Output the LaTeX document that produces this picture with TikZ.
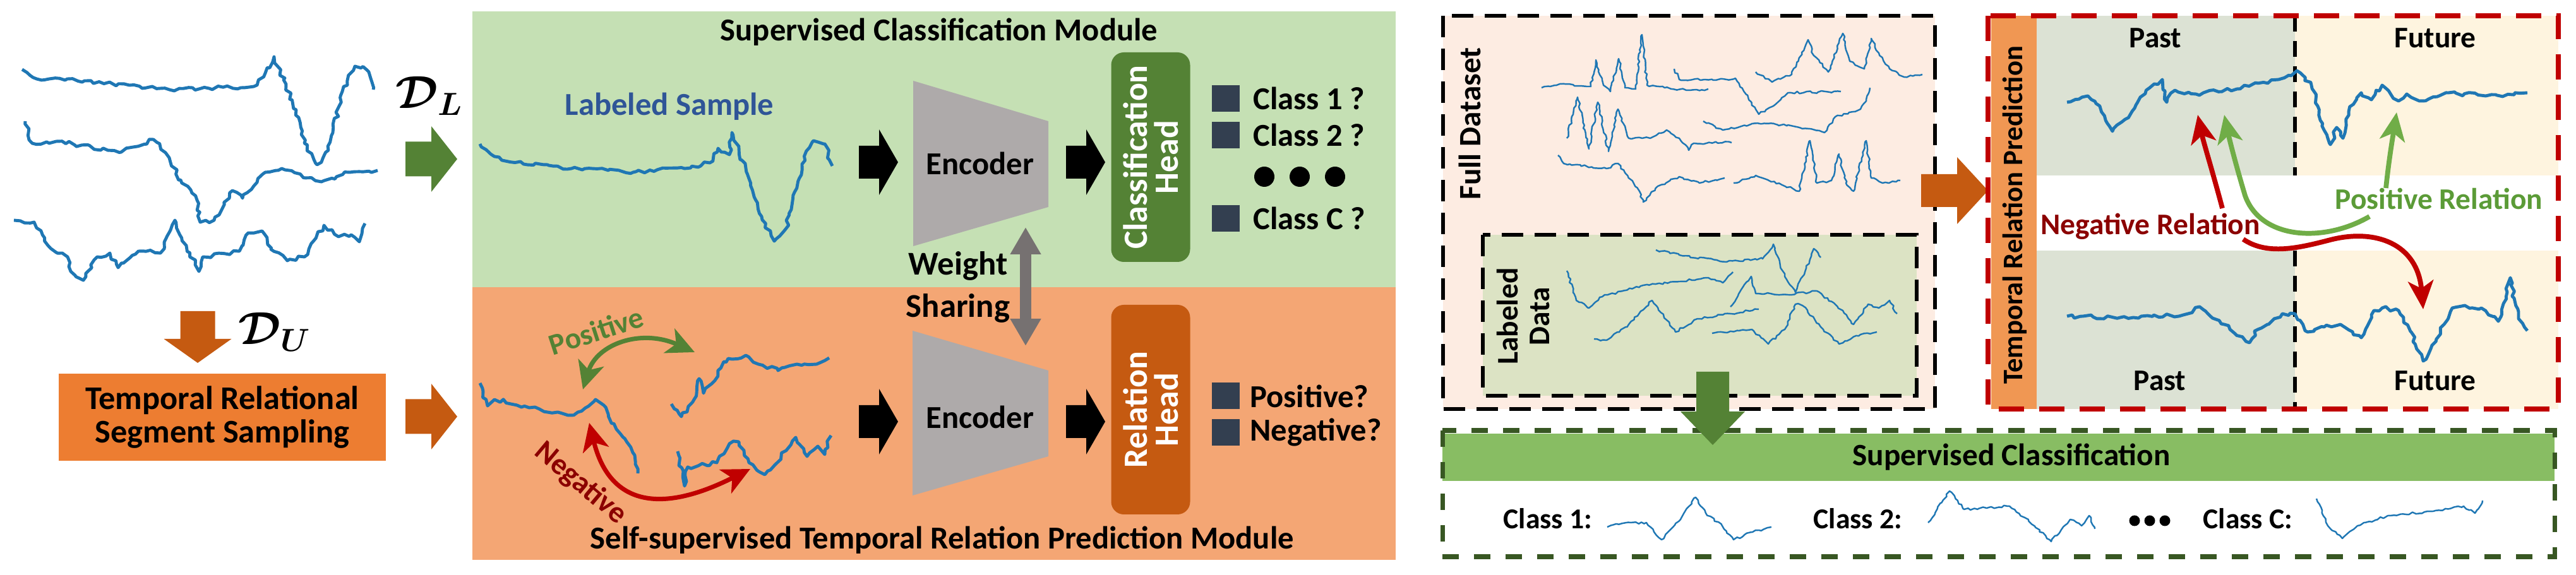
\documentclass[tikz,border=0pt]{standalone}
\usepackage{fontspec}
\setmainfont{Carlito}
\usepackage{amsmath}
\usepackage{bm}
\usetikzlibrary{arrows.meta,calc,positioning,decorations.pathmorphing}
\definecolor{sblue}{HTML}{1F77B4}
\definecolor{supfill}{HTML}{C5E0B4}
\definecolor{relfill}{HTML}{F4A674}
\definecolor{hgreen}{HTML}{548235}
\definecolor{horange}{HTML}{C55A11}
\definecolor{boxorange}{HTML}{ED7D31}
\definecolor{slate}{HTML}{333F50}
\definecolor{encgray}{HTML}{AEAAAA}
\definecolor{sharegray}{HTML}{767171}
\definecolor{labblue}{HTML}{2F5597}
\definecolor{negred}{HTML}{C00000}
\definecolor{negtext}{HTML}{8B0000}
\definecolor{fullfill}{HTML}{FDECE2}
\definecolor{labfill}{HTML}{DCE3C4}
\definecolor{barorange}{HTML}{F09753}
\definecolor{pastfill}{HTML}{DCE2D4}
\definecolor{futfill}{HTML}{FEF4DF}
\definecolor{relgreen}{HTML}{70AD47}
\definecolor{postext}{HTML}{5B9B37}
\definecolor{dkgreen}{HTML}{385723}
\definecolor{barfill}{HTML}{88BD63}
% block arrow: [opts]{tail}{length}{half shaft}{half head}{head length}
\newcommand{\blockarrow}[6][]{%
  \fill[shift={(#2)},#1] (0,-#4) -- ({#3-#6},-#4) -- ({#3-#6},-#5) -- (#3,0)
    -- ({#3-#6},#5) -- ({#3-#6},#4) -- (0,#4) -- cycle;}
\tikzset{
  ts/.style={draw=sblue,line width=1.4pt,line join=round,decorate,
    decoration={random steps,segment length=2pt,amplitude=0.9pt}},
  tsl/.style={draw=sblue,line width=0.7pt,line join=round,decorate,
    decoration={random steps,segment length=1.4pt,amplitude=0.5pt}},
  lb/.style={inner sep=0pt,font=\fontsize{14.4}{17}\selectfont\bfseries},
  lbs/.style={inner sep=0pt,font=\fontsize{13.5}{15}\selectfont\bfseries},
  dsym/.style={inner sep=0pt,font=\fontsize{22}{24}\selectfont},
  trss/.style={fill=boxorange,minimum width=51.8mm,minimum height=13.8mm,align=center,
    inner sep=0pt,font=\fontsize{14.9}{15}\selectfont\bfseries},
  enc/.style={fill=encgray},
  hd/.style={rounded corners=2mm,minimum width=33.2mm,minimum height=12.5mm,rotate=90,
    text=white,align=center,inner sep=0pt,font=\fontsize{15.3}{14}\selectfont\bfseries},
  sq/.style={fill=slate,minimum width=4.4mm,minimum height=4.2mm,inner sep=0pt},
  dot/.style={circle,fill=black,minimum size=3.2mm,inner sep=0pt},
  share/.style={draw=sharegray,line width=1.8mm,
    arrows={Triangle[length=4.3mm,width=4.6mm]-Triangle[length=4.3mm,width=4.6mm]}},
  posa/.style={draw=hgreen,line width=2pt,
    arrows={Stealth[length=4.4mm,width=4.2mm,inset=1.2mm]-Stealth[length=4.4mm,width=4.2mm,inset=1.2mm]}},
  nega/.style={draw=negred,line width=2pt,
    arrows={Stealth[length=4.4mm,width=4.2mm,inset=1.2mm]-Stealth[length=4.4mm,width=4.2mm,inset=1.2mm]}},
  rneg/.style={draw=negred,line width=2.2pt,arrows={-Stealth[length=4.5mm,width=4mm,inset=1.2mm]}},
  rpos/.style={draw=relgreen,line width=2.2pt,arrows={-Stealth[length=4.5mm,width=4mm,inset=1.2mm]}},
  dbx/.style={draw=black,line width=1.7pt,dash pattern=on 3.4mm off 1.8mm},
  rbx/.style={draw=negred,line width=2.3pt,dash pattern=on 4mm off 2.4mm},
  gbx/.style={draw=dkgreen,line width=2pt,dash pattern=on 2.6mm off 2.4mm},
  vd/.style={draw=black,line width=1.5pt,dash pattern=on 2.5mm off 1.5mm},
}

\begin{document}
\begin{tikzpicture}[x=1mm,y=-1mm]
\pgfmathsetseed{11}
\useasboundingbox (0,0) rectangle (407.9,91.1);
% unlabeled pool
\draw[ts] (3.5,11.0) -- (5.8,12.5) -- (13.4,12.8) -- (26.8,14.2) -- (40.2,13.7) -- (42.0,11.6)
  -- (43.4,9.0) -- (46.9,17.4) -- (48.2,22.7) -- (50.2,26.1) -- (52.0,23.8) -- (54.2,14.5)
  -- (56.2,10.5) -- (58.0,11.0) -- (59.1,14.2);
\draw[ts] (4.0,19.2) -- (5.1,22.7) -- (8.9,22.4) -- (19.2,24.1) -- (24.3,22.1) -- (26.8,25.0)
  -- (28.6,28.5) -- (31.2,31.7) -- (31.7,35.2) -- (33.9,34.9) -- (36.8,30.2) -- (38.4,31.4)
  -- (42.0,27.3) -- (44.6,26.7) -- (50.9,28.8) -- (55.4,27.3) -- (59.8,27.0);
\draw[ts] (2.2,34.9) -- (5.4,35.2) -- (7.6,38.9) -- (10.7,40.7) -- (11.2,43.0) -- (13.2,44.4)
  -- (15.4,40.7) -- (17.4,40.1) -- (18.7,42.4) -- (21.9,39.8) -- (25.4,40.1) -- (27.7,34.9)
  -- (29.5,38.9) -- (31.5,43.0) -- (32.1,40.7) -- (37.9,39.8) -- (39.3,36.9) -- (41.5,36.6)
  -- (42.9,39.5) -- (45.5,41.3) -- (48.2,40.7) -- (51.3,35.7) -- (53.6,37.5) -- (55.6,37.2)
  -- (56.9,38.3) -- (57.8,35.4);
\node[dsym] (DL) at (68.0,15.2) {$\bm{\mathcal{D}_{L}}$};
\node[dsym] (DU) at (43.5,52.6) {$\bm{\mathcal{D}_{U}}$};
\blockarrow[fill=horange,rotate=-90]{31.3,49.3}{8.2}{2.75}{5.35}{3.8}
\node[trss] (trss) at (35.2,66.1) {Temporal Relational\\Segment Sampling};
\blockarrow[fill=hgreen]{64.2,25.2}{8.2}{2.75}{5.2}{4.1}
\blockarrow[fill=horange]{64.2,66.0}{8.2}{2.75}{5.2}{4.1}

% the two modules
\fill[supfill] (74.8,1.8) rectangle (221.0,45.5);
\fill[relfill] (74.8,45.5) rectangle (221.0,88.7);
\node[lb,anchor=base] (suptl) at (148.7,6.5) {Supervised Classification Module};
\node[lb,anchor=base] (reltl) at (149.2,87.0) {Self-supervised Temporal Relation Prediction Module};
\node[lb,anchor=base,text=labblue] (labs) at (106.0,18.3) {Labeled Sample};
\draw[ts] (76.0,22.8) -- (78.3,24.8) -- (82.9,26.0) -- (90.5,26.7) -- (100.7,27.2) -- (108.4,26.7)
  -- (112.4,25.8) -- (113.7,23.5) -- (115.5,24.5) -- (115.9,21.0) -- (118.6,28.3) -- (120.6,34.3)
  -- (122.6,38.2) -- (124.4,36.3) -- (127.0,26.0) -- (128.8,22.3) -- (130.6,22.8) -- (131.8,26.3);
% sampled segments
\draw[ts] (76.0,60.7) -- (77.2,64.3) -- (78.3,63.3) -- (85.4,64.8) -- (90.0,65.8) -- (91.5,65.3)
  -- (94.3,63.3) -- (95.6,64.2) -- (97.6,68.0) -- (100.2,71.7) -- (101.0,75.0);
\draw[ts] (106.3,64.0) -- (107.9,66.0) -- (109.9,63.3) -- (110.7,60.0) -- (111.4,62.3) -- (115.3,56.8)
  -- (118.1,56.3) -- (120.1,57.7) -- (123.2,58.7) -- (126.2,57.7) -- (129.3,57.7) -- (131.3,56.7);
\draw[ts] (107.3,71.5) -- (108.4,77.0) -- (108.9,74.0) -- (113.5,73.3) -- (115.5,70.3) -- (117.0,70.0)
  -- (118.6,73.3) -- (121.1,75.2) -- (123.7,72.3) -- (126.0,69.3) -- (127.8,72.3) -- (129.5,70.7)
  -- (130.6,72.0) -- (131.6,69.0);
\coordinate (pa) at (92.3,61.7);
\coordinate (pb) at (110.0,55.8);
\coordinate (na) at (93.3,67.0);
\coordinate (nb) at (118.8,74.3);
\draw[posa] (pa) .. controls (94.5,54.5) and (101.5,52.0) .. (pb);
\draw[nega] (na) .. controls (96.5,80.0) and (104.5,81.5) .. (nb);
\node[lbs,text=hgreen,rotate=18] (posl) at (94.4,52.4) {Positive};
\node[lbs,text=negtext,rotate=-40] (negl) at (91.9,76.6) {Negative};
% encoders and heads
\blockarrow[fill=black]{136.0,25.7}{6.2}{2.6}{5.2}{3.0}
\blockarrow[fill=black]{168.8,25.7}{6.2}{2.6}{5.2}{3.0}
\blockarrow[fill=black]{136.0,66.8}{6.2}{2.6}{5.2}{3.0}
\blockarrow[fill=black]{168.8,66.8}{6.2}{2.6}{5.2}{3.0}
\fill[enc] (144.6,12.8) -- (166.0,19.2) -- (166.0,32.8) -- (144.6,39.0) -- cycle;
\fill[enc] (144.5,52.4) -- (166.0,58.7) -- (166.0,72.3) -- (144.5,78.5) -- cycle;
\node[lb] (enc1) at (155.2,25.9) {Encoder};
\node[lb] (enc2) at (155.2,66.1) {Encoder};
\node[hd,fill=hgreen] (chead) at (182.2,24.9) {Classification\\Head};
\node[hd,fill=horange] (rhead) at (182.2,64.9) {Relation\\Head};
\node[sq] (s1) at (194.1,15.6) {};
\node[sq] (s2) at (194.1,21.4) {};
\node[sq] (s3) at (194.1,34.6) {};
\node[lb,right=2mm of s1] (c1) {Class 1 ?};
\node[lb,right=2mm of s2] (c2) {Class 2 ?};
\node[lb,right=2mm of s3] (c3) {Class C ?};
\foreach \x [count=\i] in {200.2,205.8,211.4}
  \node[dot] (dt\i) at (\x,28.0) {};
\node[sq] (s4) at (194.1,62.75) {};
\node[sq] (s5) at (194.1,68.55) {};
\node[lb,right=1.5mm of s4] (c4) {Positive?};
\node[lb,right=1.5mm of s5] (c5) {Negative?};
\node[lb,align=center,font=\fontsize{15}{19.3}\selectfont\bfseries] (ws) at (151.7,45.5) {Weight\\Sharing};
\coordinate (wt) at (162.4,36.0);
\coordinate (wb) at (162.4,54.8);
\draw[share] (wt) -- (wb);

% full dataset
\fill[fullfill] (228.5,2.5) rectangle (306.4,64.8);
\draw[dbx] (228.5,2.5) rectangle (306.4,64.8);
\fill[labfill] (234.8,37.2) rectangle (303.5,62.7);
\draw[dbx] (234.8,37.2) rectangle (303.5,62.7);
\node[lbs,rotate=90,font=\fontsize{14}{15}\selectfont\bfseries] (full) at (232.7,19.6) {Full Dataset};
\node[lbs,rotate=90,align=center,font=\fontsize{13.5}{14}\selectfont\bfseries] (labd) at (241.2,50.1) {Labeled\\Data};
\draw[tsl] (244.1,13.9) -- (247.0,13.3) -- (251.9,13.7) -- (252.7,9.5) -- (253.9,13.5) -- (255.0,14.5)
  -- (256.3,9.3) -- (257.3,13.9) -- (259.0,14.1) -- (260.0,5.5) -- (260.8,13.5) -- (263.6,13.9)
  -- (267.6,14.3) -- (270.5,14.1);
\draw[tsl] (265.1,10.9) -- (265.9,12.6) -- (269.9,12.6) -- (273.4,12.6) -- (274.8,12.4) -- (278.0,17.3)
  -- (278.5,18.1) -- (280.8,16.8) -- (283.1,14.7) -- (291.5,14.5);
\draw[tsl] (278.0,11.4) -- (280.6,13.0) -- (283.7,11.8) -- (286.3,6.3) -- (287.2,8.8) -- (289.5,11.4)
  -- (291.8,5.3) -- (292.9,9.7) -- (295.2,10.9) -- (296.3,6.1) -- (297.5,8.4) -- (299.2,10.9)
  -- (301.5,12.2) -- (304.4,11.8);
\draw[tsl] (248.1,21.9) -- (249.8,15.4) -- (251.6,23.6) -- (253.0,16.2) -- (254.7,24.0) -- (256.2,17.3)
  -- (257.9,21.9) -- (261.3,21.9) -- (263.9,20.6) -- (265.9,21.9) -- (267.4,23.8) -- (268.2,22.7)
  -- (274.2,22.6);
\draw[tsl] (269.7,19.2) -- (272.8,20.6) -- (277.4,19.6) -- (283.1,19.8) -- (288.9,21.0) -- (290.6,18.5)
  -- (294.6,17.3) -- (295.5,15.8) -- (296.1,13.9);
\draw[tsl] (246.7,24.6) -- (247.6,25.9) -- (254.4,26.7) -- (256.2,25.9) -- (259.6,30.3) -- (260.2,32.0)
  -- (262.5,29.5) -- (265.9,28.0) -- (269.1,29.0) -- (273.1,28.2);
\draw[tsl] (274.5,29.0) -- (278.0,27.8) -- (284.9,30.3) -- (286.6,22.3) -- (287.7,29.0) -- (290.0,28.6)
  -- (291.2,24.4) -- (292.3,29.0) -- (293.5,30.3) -- (295.5,22.3) -- (296.3,28.2) -- (298.1,29.0)
  -- (300.9,28.6);
\draw[tsl] (262.2,39.6) -- (265.9,40.4) -- (273.4,41.5) -- (279.1,41.0) -- (280.0,40.0) -- (280.8,38.7)
  -- (282.6,43.8) -- (284.3,46.3) -- (286.0,42.5) -- (287.2,39.4) -- (288.3,40.8);
\draw[tsl] (248.1,42.9) -- (249.6,47.6) -- (251.6,48.8) -- (253.3,47.1) -- (260.2,45.2) -- (265.9,44.6)
  -- (270.5,44.0) -- (272.8,44.8) -- (274.4,43.1);
\draw[tsl] (274.0,48.6) -- (275.7,45.9) -- (277.3,43.8) -- (278.0,46.5) -- (283.1,46.7) -- (286.6,46.3)
  -- (287.7,46.1) -- (291.8,49.2) -- (293.5,51.4) -- (295.8,48.2) -- (297.5,48.8) -- (299.2,47.6)
  -- (300.4,49.7);
\draw[tsl] (252.4,53.7) -- (254.4,53.9) -- (257.9,51.4) -- (261.6,47.6) -- (265.3,52.6) -- (268.8,50.5)
  -- (274.0,49.7) -- (278.5,49.0);
\draw[tsl] (271.1,52.8) -- (277.4,52.2) -- (280.0,54.5) -- (282.6,52.2) -- (284.3,48.2) -- (285.4,48.4)
  -- (288.3,51.8) -- (291.2,54.5) -- (294.6,53.0) -- (297.2,52.6);
\blockarrow[fill=horange]{304.2,30.2}{10.6}{2.6}{5.3}{4.9}

% temporal relation prediction
\fill[barorange] (315.3,2.5) rectangle (322.5,64.8);
\fill[pastfill] (322.5,2.5) rectangle (363.4,27.8);
\fill[futfill] (363.4,2.5) rectangle (405.1,27.8);
\fill[pastfill] (322.5,39.7) rectangle (363.4,64.8);
\fill[futfill] (363.4,39.7) rectangle (405.1,64.8);
\draw[vd] (363.4,2.5) -- (363.4,27.8);
\draw[vd] (363.4,39.7) -- (363.4,64.8);
\draw[rbx] (314.8,2.5) rectangle (405.1,64.8);
\node[lbs,rotate=90,font=\fontsize{12.7}{14}\selectfont\bfseries] (trp) at (319.0,34.1) {Temporal Relation Prediction};
\node[lbs,anchor=base] (past1) at (341.3,7.6) {Past};
\node[lbs,anchor=base] (fut1) at (385.6,7.6) {Future};
\node[lbs,anchor=base] (past2) at (342.0,61.9) {Past};
\node[lbs,anchor=base] (fut2) at (385.6,61.9) {Future};
\draw[ts] (327.3,16.2) -- (330.6,15.2) -- (331.9,16.4) -- (334.5,20.8) -- (336.5,18.9) -- (340.4,13.9)
  -- (342.4,12.6) -- (343.1,16.2) -- (344.4,14.3) -- (347.7,14.9) -- (354.2,14.1) -- (360.8,12.6)
  -- (363.7,11.2) -- (366.0,13.5) -- (367.0,16.8) -- (368.0,20.6) -- (369.0,22.9) -- (370.0,20.2)
  -- (371.0,21.9) -- (371.9,17.7) -- (373.9,14.7) -- (375.5,15.8) -- (377.2,13.5) -- (379.8,16.0)
  -- (381.1,14.9) -- (383.1,16.0) -- (387.7,14.7) -- (393.6,15.2) -- (400.2,14.7);
\draw[ts] (327.3,50.1) -- (337.8,50.3) -- (345.7,49.9) -- (348.3,48.6) -- (352.2,51.4) -- (356.2,54.3)
  -- (357.5,52.2) -- (360.1,50.5) -- (361.4,49.7) -- (363.4,49.7) -- (365.4,52.6) -- (368.0,51.8)
  -- (370.6,51.4) -- (373.9,53.5) -- (375.9,49.2) -- (377.2,48.8) -- (379.8,49.2) -- (381.8,52.6)
  -- (383.7,57.2) -- (385.1,54.7) -- (387.0,51.4) -- (388.3,48.8) -- (390.3,48.4) -- (392.9,48.8)
  -- (395.6,50.9) -- (397.5,44.0) -- (398.8,50.5) -- (400.2,52.4);
\node[lbs,anchor=base,text=negtext] (negrel) at (340.5,37.2) {Negative Relation};
\node[lbs,anchor=base,text=postext] (posrel) at (386.2,33.2) {Positive Relation};
\coordinate (nup) at (351.9,33.0);
\coordinate (ndn) at (355.2,37.9);
\coordinate (pt1) at (348.0,18.2);
\coordinate (fb2) at (383.7,49.0);
\coordinate (pleft) at (375.2,34.3);
\coordinate (pup) at (377.8,29.8);
\coordinate (pt2) at (352.2,18.2);
\coordinate (ft1) at (379.5,17.8);
\draw[rpos] (pleft) .. controls (368.0,38.5) and (358.0,38.0) .. (355.5,31.0)
  .. controls (354.0,26.0) and (353.0,22.0) .. (pt2);
\draw[rpos] (pup) .. controls (378.3,25.0) and (379.0,21.0) .. (ft1);
\draw[rneg] (nup) .. controls (350.3,27.0) and (348.9,22.5) .. (pt1);
\draw[rneg] (ndn) .. controls (359.0,40.5) and (364.0,39.3) .. (369.0,38.0)
  .. controls (376.0,36.2) and (382.8,38.5) .. (fb2);

% supervised classification
\fill[barfill] (228.4,68.7) rectangle (404.5,76.2);
\draw[gbx] (228.4,68.2) rectangle (404.5,88.2);
\node[lbs,anchor=base,font=\fontsize{14}{15}\selectfont\bfseries] (supc) at (318.5,73.8) {Supervised Classification};
\blockarrow[fill=hgreen,rotate=-90]{271.2,58.9}{11.6}{2.6}{5.1}{5.3}
\node[lbs,anchor=base west,font=\fontsize{13}{14}\selectfont\bfseries] (k1) at (238.0,83.8) {Class 1:};
\node[lbs,anchor=base west,font=\fontsize{13}{14}\selectfont\bfseries] (k2) at (287.1,83.8) {Class 2:};
\node[lbs,anchor=base west,font=\fontsize{13}{14}\selectfont\bfseries] (k3) at (348.8,83.8) {Class C:};
\foreach \x [count=\i] in {338.0,340.4,342.8}
  \node[circle,fill=black,minimum size=1.7mm,inner sep=0pt] (kd\i) at (\x,82.5) {};
\draw[tsl] (254.5,83.5) -- (255.9,83.0) -- (260.7,82.8) -- (263.1,85.5) -- (266.1,82.3) -- (268.5,78.8)
  -- (270.1,81.3) -- (272.7,83.3) -- (274.5,85.5) -- (277.5,84.3) -- (280.5,83.5);
\draw[tsl] (305.3,82.8) -- (308.7,77.8) -- (311.0,80.7) -- (318.2,80.2) -- (320.6,82.0) -- (324.8,85.8)
  -- (327.8,82.3) -- (329.6,83.3) -- (330.8,81.7) -- (331.7,83.8);
\draw[tsl] (366.8,79.0) -- (368.6,83.3) -- (370.9,85.3) -- (373.3,83.3) -- (378.1,81.7) -- (385.3,81.0)
  -- (390.1,80.2) -- (391.9,81.3) -- (393.1,79.3);
\end{tikzpicture}
\end{document}
